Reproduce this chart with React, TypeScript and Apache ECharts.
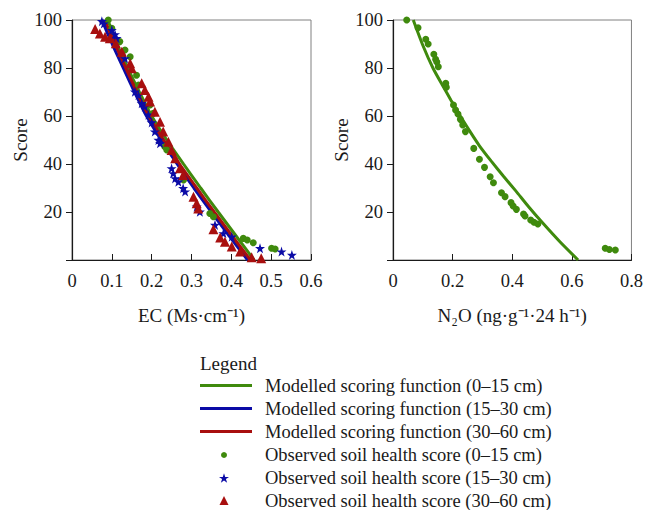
import React, { useEffect, useRef } from 'react';
import * as echarts from 'echarts';

const FONT = 'Liberation Serif, Times New Roman, Times, serif';
const GREEN = '#3f8a0d';
const BLUE = '#0b0ba6';
const RED = '#a80f0f';
const INK = '#1a1a1a';

const lineNames = [
  'Modelled scoring function (0–15 cm)',
  'Modelled scoring function (15–30 cm)',
  'Modelled scoring function (30–60 cm)',
];
const obsNames = [
  'Observed soil health score (0–15 cm)',
  'Observed soil health score (15–30 cm)',
  'Observed soil health score (30–60 cm)',
];

const ecTicks = [0, 0.1, 0.2, 0.3, 0.4, 0.5, 0.6];
const n2oTicks = [0, 0.2, 0.4, 0.6, 0.8];
const scoreTicks = [0, 20, 40, 60, 80, 100];

// Modelled curves, EC panel
const ecCurve0_15 = [
  [0.09, 100], [0.113, 90], [0.14, 80], [0.169, 70], [0.2, 60], [0.238, 50], [0.28, 40],
  [0.323, 30], [0.367, 20], [0.412, 10], [0.457, 0],
];
const ecCurve15_30 = [
  [0.075, 100], [0.101, 90], [0.129, 80], [0.157, 70], [0.187, 60], [0.224, 50], [0.264, 40],
  [0.306, 30], [0.35, 20], [0.395, 10], [0.441, 0],
];
const ecCurve30_60 = [
  [0.082, 100], [0.108, 90], [0.135, 80], [0.163, 70], [0.193, 60], [0.23, 50], [0.27, 40],
  [0.313, 30], [0.357, 20], [0.402, 10], [0.448, 0],
];

// Observed scores, EC panel
const ecObs0_15 = [
  [0.091, 100], [0.1, 96.5], [0.12, 91], [0.133, 87.5], [0.146, 84.7], [0.162, 77], [0.167, 72.9],
  [0.196, 64.6], [0.204, 61.1], [0.233, 47.2], [0.238, 45.8], [0.28, 33.3], [0.346, 19.4],
  [0.355, 18], [0.43, 9], [0.44, 8.3], [0.455, 7.2], [0.501, 4.9], [0.51, 4.6],
];
const ecObs15_30 = [
  [0.075, 99.5], [0.08, 98.5], [0.1, 95.8], [0.108, 94], [0.112, 92.4], [0.133, 84], [0.158, 70.1],
  [0.167, 68.7], [0.175, 65.3], [0.183, 63.9], [0.192, 60.5], [0.2, 57.3], [0.208, 53.5],
  [0.217, 50], [0.221, 48.6], [0.25, 38.2], [0.254, 36.1], [0.259, 34], [0.267, 32.6],
  [0.279, 29.9], [0.284, 28.5], [0.313, 22.2], [0.321, 20.1], [0.359, 14.6], [0.38, 11.1],
  [0.401, 9.7], [0.472, 4.9], [0.526, 3.5], [0.552, 2.1],
];
const ecObs30_60 = [
  [0.058, 96.2], [0.07, 94.4], [0.083, 93], [0.095, 92.4], [0.11, 90.3], [0.125, 86.8], [0.146, 82],
  [0.15, 79.9], [0.175, 73.6], [0.183, 70.8], [0.192, 68], [0.196, 66], [0.208, 61.8],
  [0.221, 57.6], [0.229, 53.5], [0.242, 49.3], [0.25, 45.8], [0.259, 42.4], [0.271, 38.2],
  [0.279, 35.4], [0.305, 26.4], [0.313, 23.6], [0.317, 21.5], [0.355, 12.8], [0.372, 9.4],
  [0.384, 7.6], [0.401, 5.6], [0.422, 3.5], [0.451, 1.1], [0.475, 0.7],
];

// N2O panel
const n2oCurve0_15 = [
  [0.068, 100], [0.1, 89.5], [0.134, 80], [0.165, 73], [0.195, 66.5], [0.226, 60], [0.257, 53.8],
  [0.29, 47.6], [0.329, 41.3], [0.37, 35], [0.412, 28.8], [0.455, 22.2], [0.501, 15.6],
  [0.56, 7.6], [0.621, 0],
];
const n2oObs0_15 = [
  [0.046, 100], [0.084, 96.8], [0.11, 92], [0.118, 90], [0.137, 85.7], [0.143, 83.6], [0.147, 82.5],
  [0.152, 80.5], [0.177, 73.6], [0.179, 72], [0.203, 64.6], [0.21, 62.5], [0.218, 60.8],
  [0.226, 58.6], [0.234, 56.3], [0.243, 53.5], [0.271, 46.5], [0.29, 42], [0.307, 38.6],
  [0.326, 34.7], [0.337, 32.2], [0.364, 28], [0.376, 26.4], [0.396, 23.9], [0.403, 22.5],
  [0.414, 21.1], [0.438, 19.2], [0.443, 18.3], [0.462, 16.7], [0.473, 15.7], [0.486, 15],
  [0.712, 4.9], [0.726, 4.4], [0.746, 4.2],
];

const STAR = 'path://M50,0 L61.8,35.1 L98.9,35.1 L69,56.8 L80.3,91.9 L50,70.2 L19.7,91.9 L31,56.8 L1.1,35.1 L38.2,35.1 Z';

function valueAxisX(gridIndex: number, ticks: number[], name: string) {
  return {
    type: 'value',
    gridIndex,
    min: ticks[0],
    max: ticks[ticks.length - 1],
    interval: ticks[1] - ticks[0],
    name,
    nameLocation: 'middle',
    nameGap: 46,
    nameTextStyle: { fontFamily: FONT, fontSize: 19, color: INK },
    axisLine: { show: true, lineStyle: { color: INK, width: 1.2 } },
    axisTick: { show: true, inside: true, length: 6, lineStyle: { color: INK } },
    axisLabel: {
      fontFamily: FONT, fontSize: 18.5, color: INK, margin: 11,
      formatter: (v: number) => String(Math.round(v * 10) / 10),
    },
    splitLine: { show: false },
  };
}

function valueAxisY(gridIndex: number, nameGap: number) {
  return {
    type: 'value',
    gridIndex,
    min: scoreTicks[0],
    max: scoreTicks[scoreTicks.length - 1],
    interval: scoreTicks[1] - scoreTicks[0],
    name: 'Score',
    nameLocation: 'middle',
    nameGap,
    nameRotate: 90,
    nameTextStyle: { fontFamily: FONT, fontSize: 19, color: INK },
    axisLine: { show: true, lineStyle: { color: INK, width: 1.2 } },
    axisTick: { show: true, inside: false, length: 6, lineStyle: { color: INK } },
    axisLabel: {
      fontFamily: FONT, fontSize: 18.5, color: INK, margin: 10,
      formatter: (v: number) => (v === 0 ? '' : String(v)),
    },
    splitLine: { show: false },
  };
}

function lineSeries(name: string, data: number[][], color: string, idx: number) {
  return {
    type: 'line', name, data, xAxisIndex: idx, yAxisIndex: idx,
    smooth: 0.2, symbol: 'none', z: 2,
    lineStyle: { color, width: 3 }, itemStyle: { color },
  };
}

function scatterSeries(name: string, data: number[][], color: string, symbol: string, size: number, idx: number, z: number) {
  return {
    type: 'scatter', name, data, xAxisIndex: idx, yAxisIndex: idx,
    symbol, symbolSize: size, z, itemStyle: { color, opacity: 1 },
  };
}

const legendText = (pad: number) => ({
  fontFamily: FONT, fontSize: 18.5, color: INK, lineHeight: 23, padding: [0, 0, 0, pad],
});

export default function App() {
  const ref = useRef<HTMLDivElement>(null);
  useEffect(() => {
    if (!ref.current) return;
    const chart = echarts.init(ref.current, undefined, { renderer: 'svg' });
    chart.setOption({
      animation: false,
      backgroundColor: '#ffffff',
      grid: [
        { left: 72, top: 20, width: 239, height: 240, show: true, borderColor: '#808080', borderWidth: 1, backgroundColor: 'transparent' },
        { left: 393, top: 20, width: 240, height: 240, show: true, borderColor: '#808080', borderWidth: 1, backgroundColor: 'transparent' },
      ],
      xAxis: [
        valueAxisX(0, ecTicks, 'EC (Ms·cm⁻¹)'),
        valueAxisX(1, n2oTicks, 'N₂O (ng·g⁻¹·24 h⁻¹)'),
      ],
      yAxis: [valueAxisY(0, 40), valueAxisY(1, 42)],
      legend: [
        {
          data: lineNames.map((n) => ({ name: n, icon: 'rect' })),
          orient: 'vertical', left: 200, top: 374, itemWidth: 52, itemHeight: 3, itemGap: 0,
          selectedMode: false, textStyle: legendText(8), padding: 0,
        },
        {
          data: [{ name: obsNames[0], icon: 'circle' }],
          orient: 'vertical', left: 221, top: 443.5, itemWidth: 6, itemHeight: 6, itemGap: 0,
          selectedMode: false, textStyle: legendText(33), padding: 0,
        },
        {
          data: [{ name: obsNames[1], icon: STAR }],
          orient: 'vertical', left: 219, top: 466.5, itemWidth: 10, itemHeight: 10, itemGap: 0,
          selectedMode: false, textStyle: legendText(31), padding: 0,
        },
        {
          data: [{ name: obsNames[2], icon: 'triangle' }],
          orient: 'vertical', left: 219.5, top: 489, itemWidth: 9, itemHeight: 9, itemGap: 0,
          selectedMode: false, textStyle: legendText(31.5), padding: 0,
        },
      ],
      graphic: [
        {
          type: 'text', left: 200, top: 354,
          style: { text: 'Legend', fontFamily: FONT, fontSize: 19, fill: INK },
        },
      ],
      series: [
        lineSeries(lineNames[0], ecCurve0_15, GREEN, 0),
        lineSeries(lineNames[1], ecCurve15_30, BLUE, 0),
        lineSeries(lineNames[2], ecCurve30_60, RED, 0),
        scatterSeries(obsNames[0], ecObs0_15, GREEN, 'circle', 7, 0, 3),
        scatterSeries(obsNames[1], ecObs15_30, BLUE, STAR, 10, 0, 4),
        scatterSeries(obsNames[2], ecObs30_60, RED, 'triangle', 10, 0, 5),
        lineSeries(lineNames[0], n2oCurve0_15, GREEN, 1),
        scatterSeries(obsNames[0], n2oObs0_15, GREEN, 'circle', 7, 1, 3),
      ],
    });
    return () => chart.dispose();
  }, []);
  return (
    <div
      ref={ref}
      style={{ position: 'fixed', left: 0, top: 0, width: 646, height: 510, background: '#fff' }}
    />
  );
}
